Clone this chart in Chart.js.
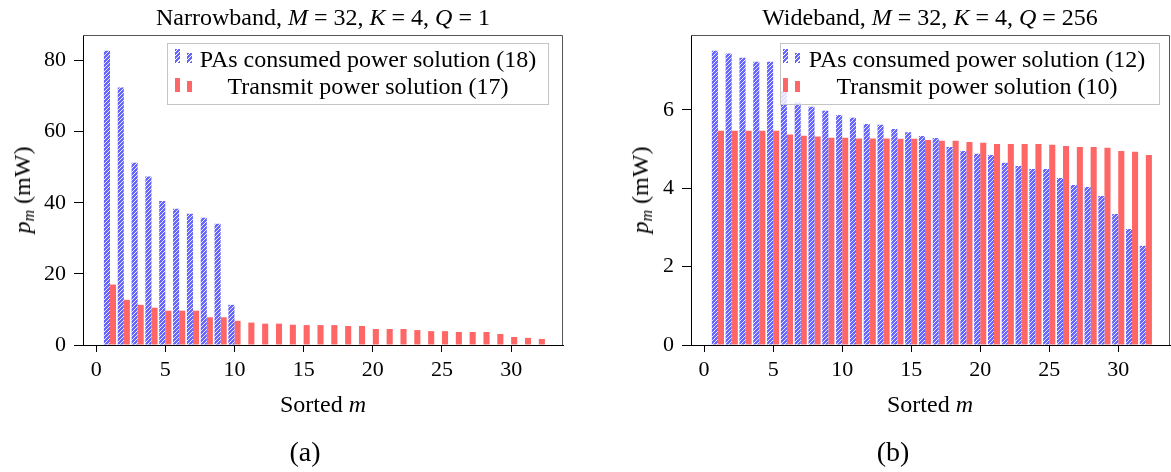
<!DOCTYPE html>
<html>
<head>
<meta charset="utf-8">
<script src="https://cdn.jsdelivr.net/npm/chart.js@4.4.1/dist/chart.umd.min.js"></script>
<style>
  html, body { margin: 0; padding: 0; background: #fff; }
  body { width: 1171px; height: 472px; position: relative; overflow: hidden;
         font-family: "Liberation Serif", "DejaVu Serif", serif; color: #000; }
  canvas { position: absolute; top: 0; }
  .t { position: absolute; white-space: nowrap; font-size: 24px; line-height: 24px; }
  .c { transform: translateX(-50%); }
  .rot { transform: translate(-50%, -50%) rotate(-90deg); }
  i { font-style: italic; }
  sub { font-size: 16px; vertical-align: -4px; line-height: 0; }
  .cap { font-size: 28px; line-height: 28px; }
  .leg { position: absolute; border: 1px solid #c4c4c4; background: rgba(255,255,255,0.8); box-sizing: border-box; }
  .ic { position: absolute; }
  .blue { background: repeating-linear-gradient(-45deg, #6666ff 0px, #6666ff 2px, rgba(255,255,255,0.85) 2px, rgba(255,255,255,0.85) 3px); }
  .red { background: #ff6666; }
</style>
</head>
<body>
<canvas id="cA" width="585" height="472" style="left:0;width:585px;height:472px"></canvas>
<canvas id="cB" width="586" height="472" style="left:585px;width:586px;height:472px"></canvas>

<div class="t c" style="left:323px;top:5px">Narrowband, <i>M</i> = 32, <i>K</i> = 4, <i>Q</i> = 1</div>
<div class="t c" style="left:930px;top:5px">Wideband, <i>M</i> = 32, <i>K</i> = 4, <i>Q</i> = 256</div>

<div class="t c" style="left:323px;top:392px">Sorted <i>m</i></div>
<div class="t c" style="left:930px;top:392px">Sorted <i>m</i></div>

<div class="t rot" style="left:22px;top:190px"><i>p<sub>m</sub></i> (mW)</div>
<div class="t rot" style="left:640px;top:190px"><i>p<sub>m</sub></i> (mW)</div>

<div class="t c cap" style="left:305px;top:438px">(a)</div>
<div class="t c cap" style="left:893px;top:438px">(b)</div>

<!-- legend (a) -->
<div class="leg" style="left:167px;top:43px;width:382px;height:62px"></div>
<div class="ic blue" style="left:175px;top:49px;width:5px;height:14px"></div>
<div class="ic blue" style="left:187px;top:53px;width:5px;height:10px"></div>
<div class="ic red" style="left:175px;top:78px;width:5px;height:14px"></div>
<div class="ic red" style="left:187px;top:81px;width:5px;height:11px"></div>
<div class="t" style="left:196px;top:47px;width:344px;text-align:center">PAs consumed power solution (18)</div>
<div class="t" style="left:196px;top:74px;width:344px;text-align:center">Transmit power solution (17)</div>

<!-- legend (b) -->
<div class="leg" style="left:780px;top:43px;width:380px;height:62px"></div>
<div class="ic blue" style="left:783px;top:49px;width:5px;height:14px"></div>
<div class="ic blue" style="left:795px;top:53px;width:5px;height:10px"></div>
<div class="ic red" style="left:783px;top:78px;width:5px;height:14px"></div>
<div class="ic red" style="left:795px;top:81px;width:5px;height:11px"></div>
<div class="t" style="left:805px;top:47px;width:344px;text-align:center">PAs consumed power solution (12)</div>
<div class="t" style="left:805px;top:74px;width:344px;text-align:center">Transmit power solution (10)</div>

<script>
// ---- data ----
const categories = [1,2,3,4,5,6,7,8,9,10,11,12,13,14,15,16,17,18,19,20,21,22,23,24,25,26,27,28,29,30,31,32];
const xTicks = [0, 5, 10, 15, 20, 25, 30];
const yTicksA = [0, 20, 40, 60, 80];
const yTicksB = [0, 2, 4, 6];

const narrowPA = [82.8, 72.4, 51.3, 47.4, 40.5, 38.3, 36.9, 35.8, 34.1, 11.3,
                  0, 0, 0, 0, 0, 0, 0, 0, 0, 0, 0, 0, 0, 0, 0, 0, 0, 0, 0, 0, 0, 0];
const narrowTx = [17.0, 12.7, 11.3, 10.5, 9.65, 9.65, 9.65, 7.8, 7.8, 6.8,
                  6.3, 6.0, 6.0, 5.7, 5.6, 5.6, 5.6, 5.35, 5.35, 4.5,
                  4.5, 4.5, 4.2, 3.9, 3.9, 3.65, 3.65, 3.65, 3.1, 2.25, 2.0, 1.7];
const widePA = [7.51, 7.44, 7.33, 7.23, 7.23, 6.47, 6.19, 6.08, 5.98, 5.87,
                5.80, 5.64, 5.62, 5.51, 5.43, 5.33, 5.28, 5.05, 4.95, 4.88,
                4.85, 4.65, 4.57, 4.49, 4.49, 4.26, 4.08, 4.03, 3.80, 3.34, 2.96, 2.53];
const wideTx = [5.47, 5.47, 5.47, 5.47, 5.47, 5.37, 5.34, 5.32, 5.29, 5.29,
                5.27, 5.27, 5.27, 5.26, 5.26, 5.23, 5.21, 5.21, 5.18, 5.16,
                5.13, 5.13, 5.13, 5.13, 5.11, 5.08, 5.05, 5.05, 5.03, 4.95, 4.93, 4.85];

const seriesLabels = ['PAs consumed power solution', 'Transmit power solution'];

// ---- styles ----
function makeHatch() {
  const c = document.createElement('canvas');
  c.width = 4; c.height = 4;
  const g = c.getContext('2d');
  g.fillStyle = '#6666ff';
  g.fillRect(0, 0, 4, 4);
  g.strokeStyle = 'rgba(255,255,255,0.85)';
  g.lineWidth = 1;
  g.beginPath();
  g.moveTo(-1, 5); g.lineTo(5, -1);
  g.moveTo(-1, 1); g.lineTo(1, -1);
  g.moveTo(3, 5); g.lineTo(5, 3);
  g.stroke();
  return g.createPattern(c, 'repeat');
}
const hatch = makeHatch();
const RED = '#ff6666';
const FONT = '"Liberation Serif", "DejaVu Serif", serif';

const framePlugin = {
  id: 'frame',
  afterDraw(chart) {
    const a = chart.chartArea, ctx = chart.ctx;
    ctx.save();
    ctx.strokeStyle = '#555';
    ctx.lineWidth = 1;
    ctx.beginPath();
    ctx.moveTo(Math.round(a.left), Math.round(a.top) + 0.5);
    ctx.lineTo(Math.round(a.right) - 0.5, Math.round(a.top) + 0.5);
    ctx.lineTo(Math.round(a.right) - 0.5, Math.round(a.bottom));
    ctx.stroke();
    ctx.restore();
  }
};

function makeChart(id, pa, tx, yMax, yTicks, yWidth, padRight) {
  return new Chart(document.getElementById(id), {
    type: 'bar',
    data: {
      datasets: [
        { label: seriesLabels[0], data: categories.map((m, i) => ({ x: m, y: pa[i] })),
          backgroundColor: hatch, borderWidth: 0, categoryPercentage: 0.88, barPercentage: 1 },
        { label: seriesLabels[1], data: categories.map((m, i) => ({ x: m, y: tx[i] })),
          backgroundColor: RED, borderWidth: 0, categoryPercentage: 0.88, barPercentage: 1 }
      ]
    },
    options: {
      responsive: false,
      animation: false,
      devicePixelRatio: 1,
      layout: { padding: { left: 0, top: 35, right: padRight, bottom: 0 } },
      plugins: { legend: { display: false }, tooltip: { enabled: false }, title: { display: false } },
      scales: {
        x: {
          type: 'linear', min: -0.95, max: 33.75, offset: false,
          afterBuildTicks: s => { s.ticks = xTicks.map(v => ({ value: v })); },
          afterFit: s => { s.height = 127; },
          grid: { offset: false, drawOnChartArea: false, drawTicks: true, tickLength: 7, color: '#000', lineWidth: 1 },
          border: { display: true, color: '#000', width: 1 },
          ticks: { font: { family: FONT, size: 22 }, color: '#000', padding: 5, maxRotation: 0, autoSkip: false }
        },
        y: {
          min: 0, max: yMax,
          afterBuildTicks: s => { s.ticks = yTicks.map(v => ({ value: v })); },
          afterFit: s => { s.width = yWidth; },
          grid: { offset: false, drawOnChartArea: false, drawTicks: true, tickLength: 9, color: '#000', lineWidth: 1 },
          border: { display: true, color: '#000', width: 1 },
          ticks: { font: { family: FONT, size: 22 }, color: '#000', padding: 8 }
        }
      }
    },
    plugins: [framePlugin]
  });
}

makeChart('cA', narrowPA, narrowTx, 87.2, yTicksA, 83, 22);
makeChart('cB', widePA, wideTx, 7.91, yTicksB, 106, 1);
</script>
</body>
</html>
